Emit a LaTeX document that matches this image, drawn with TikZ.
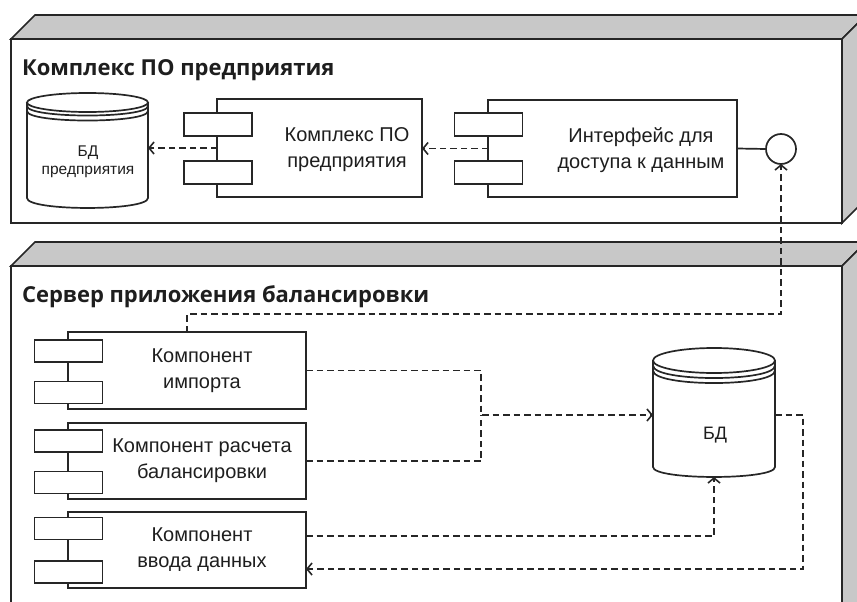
\documentclass[tikz,border=0pt]{standalone}
\usepackage{fontspec}
\setmainfont{Liberation Sans}
\newfontfamily\titlefont{Open Sans}
\usetikzlibrary{arrows.meta,calc}
\definecolor{ln}{HTML}{262626}
\definecolor{gr}{HTML}{C8C8C8}
\definecolor{tx}{HTML}{1E1E1E}
\begin{document}
\begin{tikzpicture}[x=1pt,y=-1pt,
 every node/.style={inner sep=0pt, outer sep=0pt},
 outline/.style={draw=ln, line width=1.7pt, line join=miter},
 face/.style={outline, fill=gr},
 comp/.style={outline, fill=white, rectangle},
 port/.style={outline, fill=white, rectangle, minimum width=68pt, minimum height=22pt},
 depline/.style={draw=ln, line width=1.7pt, dash pattern=on 6.5pt off 4pt},
 dep/.style={depline, -{Straight Barb[length=5pt,width=12pt,line width=1.6pt]}},
 lbl/.style={text=tx, align=center, font=\fontsize{20}{26}\selectfont},
 title/.style={text=tx, anchor=base west, font=\titlefont\bfseries\fontsize{22}{24}\selectfont},
]
\useasboundingbox (0,0) rectangle (857,602);
\clip (0,0) rectangle (857,602);

% ---- 3D node boxes
\draw[outline, fill=white] (11,39) rectangle (842,223);
\draw[face] (11,39) -- (35,15) -- (866,15) -- (842,39) -- cycle;
\draw[face] (842,39) -- (866,15) -- (866,199) -- (842,223) -- cycle;
\node[title] (t1) at (22,76) {Комплекс ПО предприятия};

\draw[outline, fill=white] (11,266) rectangle (842,650);
\draw[face] (11,266) -- (35,242) -- (866,242) -- (842,266) -- cycle;
\draw[face] (842,266) -- (866,242) -- (866,640) -- (842,650) -- cycle;
\node[title] (t2) at (22,302) {Сервер приложения балансировки};

% ---- DB 1
\draw[outline, fill=white] (27,102.5) -- (27,198) .. controls (27,211.3) and (148,211.3) .. (148,198) -- (148,102.5);
\draw[outline, fill=white] (87.5,102.5) ellipse [x radius=60.5, y radius=9.5];
\draw[outline] (27,106) .. controls (27,118.7) and (148,118.7) .. (148,106);
\draw[outline] (27,111) .. controls (27,123.7) and (148,123.7) .. (148,111);
\node[minimum width=121pt, minimum height=122pt] (db1) at (87.5,147) {};
\node[text=tx, align=center, font=\fontsize{15.5}{18}\selectfont] (db1t) at (88,162) {БД\\предприятия};

% ---- DB 2
\draw[outline, fill=white] (653,360.5) -- (653,467) .. controls (653,480.3) and (775,480.3) .. (775,467) -- (775,360.5);
\draw[outline, fill=white] (714,360.5) ellipse [x radius=61, y radius=12.5];
\draw[outline] (653,365.5) .. controls (653,382.2) and (775,382.2) .. (775,365.5);
\draw[outline] (653,370.5) .. controls (653,387.2) and (775,387.2) .. (775,370.5);
\node[minimum width=122pt, minimum height=124pt] (db2) at (714,415) {};
\node[text=tx, font=\fontsize{18}{20}\selectfont] (db2t) at (715,435) {БД};

% ---- components (top)
\node[comp, minimum width=205pt, minimum height=98pt] (c1) at (319.5,148) {};
\node[port, minimum height=23pt] (c1a) at (218,124.5) {};
\node[port, minimum height=23pt] (c1b) at (218,172.5) {};
\node[lbl] (c1t) at (347,150) {Комплекс ПО\\предприятия};

\node[comp, minimum width=249pt, minimum height=97pt] (c2) at (612.5,148.5) {};
\node[port, minimum height=23pt] (c2a) at (488.5,124.5) {};
\node[port, minimum height=23pt] (c2b) at (488.5,172.5) {};
\node[lbl] (c2t) at (641,150) {Интерфейс для\\доступа к данным};

\node[circle, outline, fill=white, minimum size=30pt] (iface) at (781,149) {};

% ---- components (bottom)
\node[comp, minimum width=238pt, minimum height=77pt] (i1) at (187,370.5) {};
\node[port] (i1a) at (68.5,351) {};
\node[port] (i1b) at (68.5,392.5) {};
\node[lbl] (i1t) at (202,371) {Компонент\\импорта};

\node[comp, minimum width=238pt, minimum height=76pt] (i2) at (187,461) {};
\node[port] (i2a) at (68.5,441) {};
\node[port] (i2b) at (68.5,482.5) {};
\node[lbl] (i2t) at (202,461) {Компонент расчета\\балансировки};

\node[comp, minimum width=238pt, minimum height=76pt] (i3) at (187,550) {};
\node[port] (i3a) at (68.5,528.5) {};
\node[port] (i3b) at (68.5,572) {};
\node[lbl] (i3t) at (202,550) {Компонент\\ввода данных};

% ---- connectors
\draw[dep] (c1.west) -- (c1.west -| db1.east);
\draw[dep] (c2.west) -- (c2.west -| c1.east);
\draw[outline] (c2.east) -- (iface.west);
\coordinate (k1) at (781,314);
\draw[dep] (i1.north) |- (k1) -- (iface.south);

\coordinate (j) at (481,415);
\draw[dep] (i1.east) -| (j) -- (db2.west);
\draw[depline] (i2.east) -| (j);
\draw[dep] ([yshift=14pt]i3.east) -| (db2.south);
\coordinate (m) at (803,569);
\draw[dep] (db2.east) -| (m) -- (m -| i3.east);
\end{tikzpicture}
\end{document}
